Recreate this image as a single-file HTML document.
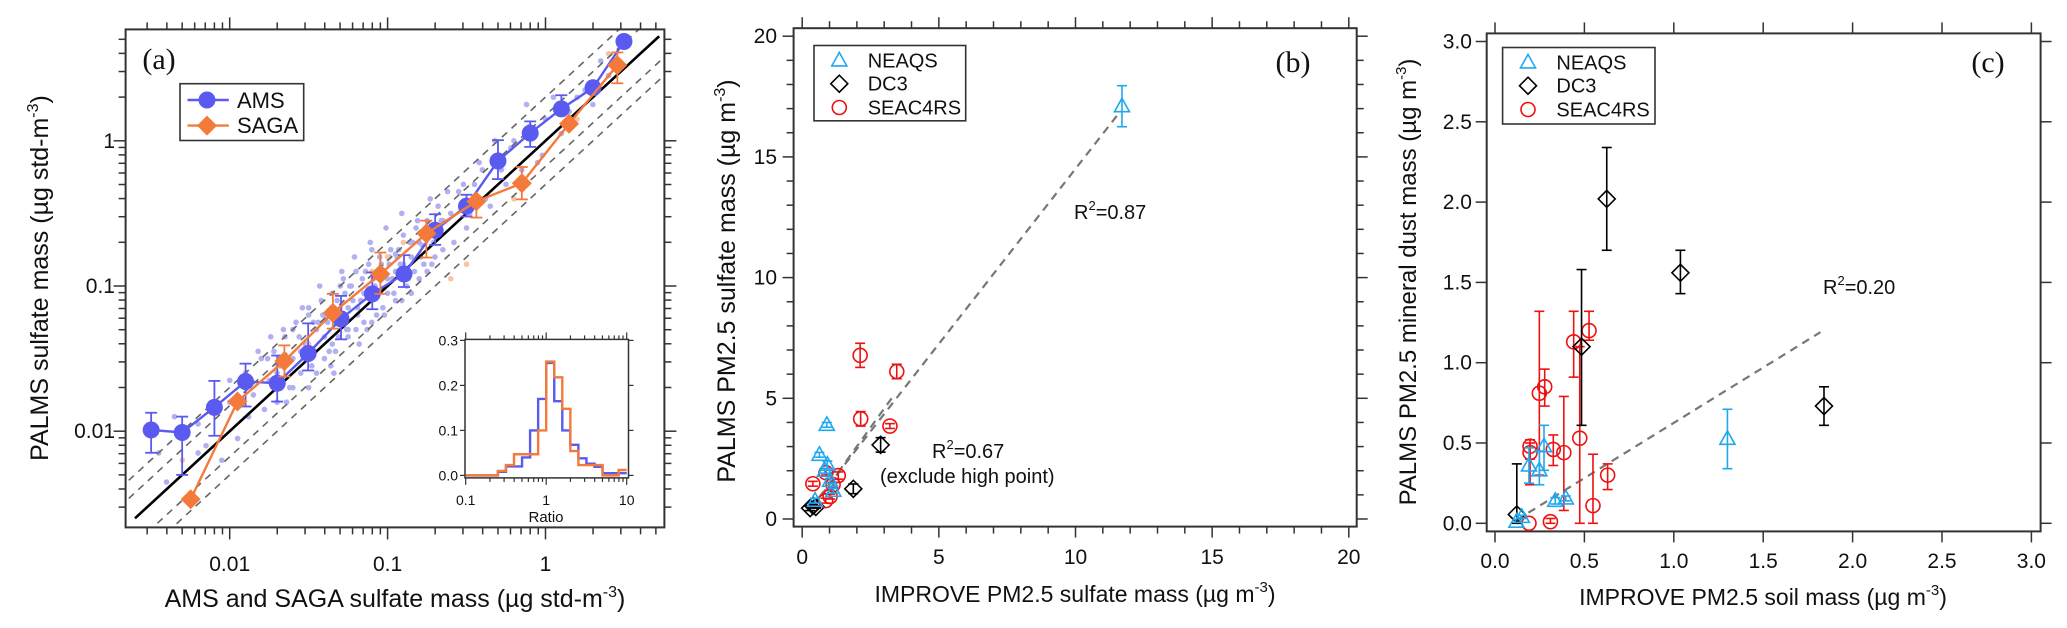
<!DOCTYPE html>
<html><head><meta charset="utf-8"><style>
html,body{margin:0;padding:0;background:#fff}
svg{display:block;font-family:"Liberation Sans",Arial,sans-serif}
</style></head><body>
<svg id="fig" width="2067" height="628" viewBox="0 0 2067 628" xmlns="http://www.w3.org/2000/svg">
<defs><clipPath id="clipA"><rect x="125.6" y="29.4" width="538.8" height="498"/></clipPath></defs>
<g id="pa"></g>
<g id="pb"></g>
<g id="pc"></g>
</svg>
<script>
// ---------- Panel (a) data ----------
const amsX=[0.00318,0.0050,0.0080,0.0126,0.020,0.0314,0.0507,0.080,0.127,0.20,0.316,0.50,0.80,1.26,2.0,3.14];
const amsY=[0.0102,0.0098,0.0146,0.022,0.0214,0.0343,0.0594,0.0883,0.121,0.242,0.355,0.726,1.13,1.66,2.32,4.83];
const amsHi=[0.0134,0.0126,0.0222,0.0292,0.0332,0.0553,0.0855,0.124,0.163,0.312,0.425,1.01,1.36,2.06,null,null];
const amsLo=[0.0071,0.0050,0.0093,0.0148,0.0160,0.0262,0.0429,0.0692,0.0984,0.192,0.301,0.545,0.908,null,null,null];
const sagaX=[0.00566,0.0112,0.0222,0.045,0.090,0.176,0.365,0.708,1.41,2.85];
const sagaY=[0.0034,0.016,0.0304,0.0653,0.121,0.230,0.383,0.51,1.31,3.32];
const sagaHi=[null,null,0.039,0.0883,0.170,0.282,0.408,0.66,null,4.06];
const sagaLo=[null,null,0.0238,0.0509,0.0883,0.157,0.296,0.395,null,2.49];
const cloudLx=[-2.45,-2.4,-2.3,-2.25,-2.2,-2.15,-2.1,-2.05,-2.0,-1.95,-1.9,-1.88,-1.85,-1.8,-1.78,-1.75,-1.72,-1.7,-1.68,-1.65,-1.62,-1.6,-1.58,-1.55,-1.52,-1.5,-1.48,-1.45,-1.42,-1.4,-1.38,-1.35,-1.33,-1.3,-1.28,-1.25,-1.22,-1.2,-1.18,-1.15,-1.12,-1.1,-1.08,-1.05,-1.02,-1.0,-0.98,-0.95,-0.92,-0.9,-0.88,-0.85,-0.82,-0.8,-0.78,-0.75,-0.72,-0.7,-0.68,-0.65,-0.6,-0.55,-0.5,-0.45,-0.4,-0.35,-0.3,-0.25,-0.2,-0.15,-0.1,-0.05,0.0,0.1,0.2,0.3,0.4,-1.45,-1.35,-1.25,-1.15,-1.05,-0.95,-0.85,-0.75,-1.6,-1.7,-1.3,-1.1,-0.9,-0.7,-1.5,-1.2,-1.4,-1.0,-0.8,-1.55,-1.25,-0.95,-0.65,
 -2.35,-2.2,-2.0,-1.9,-1.82,-1.76,-1.66,-1.6,-1.56,-1.5,-1.46,-1.43,-1.39,-1.36,-1.32,-1.29,-1.26,-1.23,-1.21,-1.19,-1.16,-1.13,-1.11,-1.09,-1.06,-1.03,-1.01,-0.99,-0.96,-0.93,-0.91,-0.89,-0.86,-0.83,-0.81,-0.79,-0.76,-0.73,-0.71,-0.66,-0.62,-0.58,-0.52,-0.48,-0.42,-0.38,-0.32,-0.28,-0.22,-0.12,-0.02,0.05,0.15,0.25,0.35,-1.74,-1.64,-1.54,-1.44,-1.34,
 -1.47,-1.41,-1.37,-1.31,-1.27,-1.17,-1.14,-1.07,-1.04,-0.97,-0.94,-0.87,-0.84,-0.77,-0.74,-1.24,-1.19,-1.09,-0.99,-0.91];
const cloudLy=[-2.15,-2.35,-2.0,-2.45,-1.95,-2.1,-1.85,-2.2,-1.8,-2.05,-1.6,-1.9,-1.75,-1.5,-1.85,-1.65,-1.45,-1.8,-1.55,-1.35,-1.7,-1.5,-1.25,-1.6,-1.4,-1.2,-1.55,-1.3,-1.1,-1.5,-1.25,-1.05,-1.45,-1.2,-0.95,-1.35,-1.1,-0.9,-1.4,-1.05,-0.85,-1.25,-1.0,-0.8,-1.2,-0.95,-0.75,-1.1,-0.85,-0.65,-1.0,-0.8,-0.6,-0.95,-0.72,-0.55,-0.85,-0.6,-0.45,-0.75,-0.5,-0.35,-0.6,-0.3,-0.2,-0.45,-0.1,-0.3,0.0,-0.2,0.1,-0.15,0.15,0.05,0.3,0.25,0.45,-1.6,-1.4,-1.15,-1.25,-0.95,-0.9,-1.05,-0.9,-1.3,-1.6,-1.0,-0.75,-0.85,-0.8,-1.7,-1.3,-1.35,-1.05,-0.7,-1.45,-1.3,-0.78,-0.55,
 -1.9,-2.15,-1.65,-1.7,-1.45,-1.5,-1.3,-1.7,-1.35,-1.15,-1.45,-1.0,-1.2,-1.55,-1.1,-0.9,-1.3,-1.0,-0.8,-1.15,-0.95,-1.3,-0.7,-1.05,-0.9,-1.15,-0.6,-0.85,-1.05,-0.75,-0.5,-0.95,-0.7,-0.9,-0.55,-0.8,-0.65,-0.4,-0.7,-0.55,-0.35,-0.7,-0.3,-0.5,-0.15,-0.4,0.0,-0.2,-0.05,0.25,-0.1,0.3,0.2,0.35,0.55,-1.35,-1.8,-1.15,-1.25,-1.6,
 -1.25,-1.2,-1.45,-1.35,-1.05,-1.1,-0.9,-1.2,-0.85,-0.95,-0.8,-0.95,-0.7,-0.85,-0.6,-1.0,-1.2,-0.95,-0.8,-1.1];
const cloudOx=[-2.3,-1.7,-1.5,-1.1,-0.9,-0.7,-0.5,-0.6,-0.2,0.2,0.4,-1.0,-1.3];
const cloudOy=[-2.2,-1.55,-1.4,-0.9,-0.7,-0.6,-0.85,-0.95,-0.4,0.15,0.6,-0.8,-1.15];
const histBlue=[0,0,0,0,0.008,0.02,0.02,0.04,0.10,0.17,0.25,0.165,0.10,0.068,0.038,0.026,0.019,0.005,0.005,0.005];
const histOrange=[0,0,0,0,0.01,0.023,0.047,0.047,0.047,0.10,0.253,0.218,0.148,0.054,0.023,0.023,0.023,0,0,0.012];
// ---------- Panel (b) data ----------
const bNeX=[0.90,0.63,0.92,0.83,1.02,1.14,0.47,11.7];
const bNeY=[3.9,2.66,2.25,2.0,1.58,1.17,0.76,17.1];
const bNeErr=[0.1,0.1,0.15,0.1,0.1,0.1,0.1,0.85];
const bDcX=[2.87,1.87,0.29,0.4,0.5];
const bDcY=[3.07,1.25,0.45,0.55,0.5];
const bDcErr=[0.3,0.2,0.1,0.05,0.05];
const bSeX=[2.12,3.46,2.14,3.21,0.39,1.32,0.87,1.13,1.02,0.86];
const bSeY=[6.78,6.11,4.15,3.85,1.46,1.8,1.92,1.42,0.93,0.76];
const bSeErr=[0.5,0.3,0.3,0.1,0.1,0.15,0.1,0.1,0.1,0.1];
// ---------- Panel (c) data ----------
const cDcX=[0.625,1.037,0.484,1.84,0.122];
const cDcY=[2.02,1.56,1.10,0.73,0.055];
const cDcHi=[2.34,1.70,1.58,0.85,0.37];
const cDcLo=[1.70,1.43,0.61,0.61,0.0];
const cNeX=[1.30,0.19,0.248,0.274,0.337,0.396,0.15,0.12];
const cNeY=[0.526,0.36,0.33,0.48,0.14,0.155,0.04,0.01];
const cNeHi=[0.71,0.47,0.45,0.61,0.16,0.17,0.05,0.02];
const cNeLo=[0.34,0.25,0.24,0.33,0.12,0.14,0.03,0.0];
const cSeX=[0.248,0.278,0.44,0.526,0.474,0.196,0.196,0.326,0.385,0.63,0.548,0.19,0.31];
const cSeY=[0.81,0.85,1.13,1.20,0.53,0.48,0.44,0.46,0.44,0.30,0.11,0.0,0.01];
const cSeHi=[1.32,0.96,1.32,1.32,1.1,0.52,0.50,0.55,0.79,0.37,0.43,0.0,0.03];
const cSeLo=[0.30,0.73,0.91,1.14,0.0,0.24,0.40,0.36,0.08,0.21,0.0,0.0,0.0];

const NS="http://www.w3.org/2000/svg";
function el(parent,tag,attrs){const e=document.createElementNS(NS,tag);for(const k in attrs)e.setAttribute(k,attrs[k]);parent.appendChild(e);return e;}
function txt(parent,x,y,s,size,anchor,extra){const t=el(parent,'text',Object.assign({x:x,y:y,'font-size':size,'text-anchor':anchor||'middle',fill:'#111'},extra||{}));t.textContent=s;return t;}
const AX='#333';

// ================= PANEL A =================
const pa=document.getElementById('pa');
const aL=125.6,aR=664.4,aT=29.4,aB=527.4;
const xa=v=>229.7+(Math.log10(v)+2)*157.9;
const ya=v=>431.2-(Math.log10(v)+2)*145.2;
const xal=l=>229.7+(l+2)*157.9, yal=l=>431.2-(l+2)*145.2;
const cloud=el(pa,'g',{'clip-path':'url(#clipA)'});


for(let i=0;i<cloudLx.length;i++){const d=el(cloud,'circle',{cx:xal(cloudLx[i]),cy:yal(cloudLy[i]),r:2.8,fill:'#b0b0f2'});}
for(let i=0;i<cloudOx.length;i++){const d=el(cloud,'circle',{cx:xal(cloudOx[i]),cy:yal(cloudOy[i]),r:2.8,fill:'#f8c4a4'});}
const refs=el(pa,'g',{'clip-path':'url(#clipA)'});


[1.5,2,1/1.5,0.5].forEach(f=>{const lf=Math.log10(f);el(refs,'line',{x1:xal(-2.7),y1:yal(-2.7+lf),x2:xal(0.8),y2:yal(0.8+lf),stroke:'#666','stroke-width':1.6,'stroke-dasharray':'7,6'});});
const one=el(refs,'line',{x1:xal(-2.6),y1:yal(-2.6),x2:xal(0.72),y2:yal(0.72),stroke:'#000','stroke-width':2.6});


function series(g,X,Y,Hi,Lo,col,shape,name){
  const sg=el(g,'g',{});
  
  
  for(let i=0;i<X.length;i++){const x=xa(X[i]);
    if(Hi[i]!=null){el(sg,'line',{x1:x,y1:ya(Y[i]),x2:x,y2:ya(Hi[i]),stroke:col,'stroke-width':1.8});el(sg,'line',{x1:x-6,y1:ya(Hi[i]),x2:x+6,y2:ya(Hi[i]),stroke:col,'stroke-width':1.8});}
    if(Lo[i]!=null){el(sg,'line',{x1:x,y1:ya(Y[i]),x2:x,y2:ya(Lo[i]),stroke:col,'stroke-width':1.8});el(sg,'line',{x1:x-6,y1:ya(Lo[i]),x2:x+6,y2:ya(Lo[i]),stroke:col,'stroke-width':1.8});}}
  el(sg,'polyline',{points:X.map((v,i)=>xa(v)+','+ya(Y[i])).join(' '),fill:'none',stroke:col,'stroke-width':2.4});
  for(let i=0;i<X.length;i++){const x=xa(X[i]),y=ya(Y[i]);let m;
    if(shape==='c')m=el(sg,'circle',{cx:x,cy:y,r:8.5,fill:col});
    else m=el(sg,'polygon',{points:`${x},${y-10} ${x+10},${y} ${x},${y+10} ${x-10},${y}`,fill:col});
    }
}
series(pa,amsX,amsY,amsHi,amsLo,'#5a5af0','c','ams-series');
series(pa,sagaX,sagaY,sagaHi,sagaLo,'#f47a3c','d','saga-series');
const fa=el(pa,'rect',{x:aL,y:aT,width:aR-aL,height:aB-aT,fill:'none',stroke:AX,'stroke-width':2});

for(let d=-3;d<=0;d++)for(let m=1;m<10;m++){const l=d+Math.log10(m);const major=m===1;const len=major?12:7;
  const x=xal(l);if(x>=aL&&x<=aR){el(pa,'line',{x1:x,y1:aB,x2:x,y2:aB+len,stroke:AX,'stroke-width':1.5});el(pa,'line',{x1:x,y1:aT,x2:x,y2:aT-len,stroke:AX,'stroke-width':1.5});}
  const y=yal(l);if(y>=aT&&y<=aB){el(pa,'line',{x1:aL,y1:y,x2:aL-len,y2:y,stroke:AX,'stroke-width':1.5});el(pa,'line',{x1:aR,y1:y,x2:aR+len,y2:y,stroke:AX,'stroke-width':1.5});}}
const aTicks=['0.01','0.1','1'];
aTicks.forEach(s=>{const v=parseFloat(s);
  const tx=txt(pa,xa(v),571,s,21);
  const ty=txt(pa,115,ya(v)+7,s,21,'end');});
let t=el(pa,'text',{x:395,y:607,'font-size':25,'text-anchor':'middle',fill:'#111'});
t.innerHTML='AMS and SAGA sulfate mass (µg std-m<tspan dy="-10" font-size="16">-3</tspan><tspan dy="10">)</tspan>';

t=el(pa,'text',{x:0,y:0,'font-size':25,'text-anchor':'middle',fill:'#111',transform:'translate(48,278) rotate(-90)'});
t.innerHTML='PALMS sulfate mass (µg std-m<tspan dy="-10" font-size="16">-3</tspan><tspan dy="10">)</tspan>';

t=txt(pa,159,69,'(a)',30,'middle',{'font-family':'"Liberation Serif",serif'});
const lga=el(pa,'g',{});
el(lga,'rect',{x:180,y:83.7,width:123.7,height:56.8,fill:'#fff',stroke:AX,'stroke-width':1.6});
el(lga,'line',{x1:187.5,y1:100,x2:228.8,y2:100,stroke:'#5a5af0','stroke-width':2.4});
el(lga,'circle',{cx:207,cy:100,r:8.5,fill:'#5a5af0'});
el(lga,'line',{x1:187.5,y1:125.6,x2:228.8,y2:125.6,stroke:'#f47a3c','stroke-width':2.4});
el(lga,'polygon',{points:'207,115.6 217,125.6 207,135.6 197,125.6',fill:'#f47a3c'});
t=txt(lga,237,108,'AMS',22,'start');
t=txt(lga,237,133,'SAGA',22,'start');
const ins=el(pa,'g',{});
const iL=465,iR=628.5,iT=339.4,iB=477.9;
const xi=l=>465.7+(l+1)*80.5, yi=v=>475.4-v*450;
el(ins,'rect',{x:iL,y:iT,width:iR-iL,height:iB-iT,fill:'#fff',stroke:AX,'stroke-width':1.5});
function step(arr,col,nm){let p=`M${xi(-1)},${yi(0)}`;arr.forEach((v,i)=>{p+=` L${xi(-1+0.1*i)},${yi(v)} L${xi(-0.9+0.1*i)},${yi(v)}`;});
  const s=el(ins,'path',{d:p,fill:'none',stroke:col,'stroke-width':2.4});}
step(histBlue,'#5a5af0','hist-ams');step(histOrange,'#f47a3c','hist-saga');
for(let d=-1;d<=0;d++)for(let m=1;m<10;m++){const x=xi(d+Math.log10(m));const len=m===1?7:4;
  el(ins,'line',{x1:x,y1:iB,x2:x,y2:iB+len,stroke:AX,'stroke-width':1.2});el(ins,'line',{x1:x,y1:iT,x2:x,y2:iT-len,stroke:AX,'stroke-width':1.2});}
el(ins,'line',{x1:xi(1),y1:iB,x2:xi(1),y2:iB+7,stroke:AX,'stroke-width':1.2});el(ins,'line',{x1:xi(1),y1:iT,x2:xi(1),y2:iT-7,stroke:AX,'stroke-width':1.2});
const insY=['0.0','0.1','0.2','0.3'];
insY.forEach(s=>{const v=parseFloat(s);el(ins,'line',{x1:iL,y1:yi(v),x2:iL-5,y2:yi(v),stroke:AX,'stroke-width':1.2});el(ins,'line',{x1:iR,y1:yi(v),x2:iR+5,y2:yi(v),stroke:AX,'stroke-width':1.2});
  const q=txt(ins,iL-7,yi(v)+5,s,14,'end');});
const insX=['0.1','1','10'];
insX.forEach(s=>{const q=txt(ins,xi(Math.log10(parseFloat(s))),505,s,14);});
t=txt(ins,546,522,'Ratio',15);

// ================= PANEL B =================
const pb=document.getElementById('pb');
const bL=793.6,bR=1356.7,bT=28.2,bB=526.6;
const xb=v=>802.2+v*27.33, yb=v=>519-v*24.14;
const fb=el(pb,'rect',{x:bL,y:bT,width:bR-bL,height:bB-bT,fill:'none',stroke:AX,'stroke-width':2});

for(let v=0;v<=20;v++){const len=v%5===0?11:7;
  el(pb,'line',{x1:xb(v),y1:bB,x2:xb(v),y2:bB+len,stroke:AX,'stroke-width':1.5});el(pb,'line',{x1:xb(v),y1:bT,x2:xb(v),y2:bT-len,stroke:AX,'stroke-width':1.5});
  el(pb,'line',{x1:bL,y1:yb(v),x2:bL-len,y2:yb(v),stroke:AX,'stroke-width':1.5});el(pb,'line',{x1:bR,y1:yb(v),x2:bR+len,y2:yb(v),stroke:AX,'stroke-width':1.5});}
const bTicks=['0','5','10','15','20'];
bTicks.forEach(s=>{const v=+s;
  let q=txt(pb,xb(v),564,s,21);
  q=txt(pb,777,yb(v)+7,s,21,'end');});
t=el(pb,'text',{x:1075,y:602,'font-size':23,'text-anchor':'middle',fill:'#111'});
t.innerHTML='IMPROVE PM2.5 sulfate mass (µg m<tspan dy="-10" font-size="15">-3</tspan><tspan dy="10">)</tspan>';

t=el(pb,'text',{x:0,y:0,'font-size':25,'text-anchor':'middle',fill:'#111',transform:'translate(735,281) rotate(-90)'});
t.innerHTML='PALMS PM2.5 sulfate mass (µg m<tspan dy="-10" font-size="16">-3</tspan><tspan dy="10">)</tspan>';

t=txt(pb,1293,72,'(b)',30,'middle',{'font-family':'"Liberation Serif",serif'});
let fit=el(pb,'line',{x1:xb(0.3),y1:yb(0.3*1.45),x2:xb(11.65),y2:yb(16.9),stroke:'#777','stroke-width':2.2,'stroke-dasharray':'8,6'});

fit=el(pb,'line',{x1:xb(0.4),y1:yb(0.5),x2:xb(3.4),y2:yb(5.2),stroke:'#777','stroke-width':2.2,'stroke-dasharray':'8,6'});

t=el(pb,'text',{x:1074,y:219,'font-size':20,fill:'#111'});t.innerHTML='R<tspan dy="-9" font-size="13">2</tspan><tspan dy="9">=0.87</tspan>';

t=el(pb,'text',{x:932,y:458,'font-size':20,fill:'#111'});t.innerHTML='R<tspan dy="-9" font-size="13">2</tspan><tspan dy="9">=0.67</tspan>';

t=txt(pb,880,483,'(exclude high point)',20,'start');

function marker(g,x,y,shape,col,nm){let m;
  if(shape==='t')m=el(g,'polygon',{points:`${x},${y-8} ${x+7.5},${y+5.5} ${x-7.5},${y+5.5}`,fill:'none',stroke:col,'stroke-width':1.6});
  else if(shape==='d')m=el(g,'polygon',{points:`${x},${y-8.5} ${x+8.5},${y} ${x},${y+8.5} ${x-8.5},${y}`,fill:'none',stroke:col,'stroke-width':1.6});
  else m=el(g,'circle',{cx:x,cy:y,r:7,fill:'none',stroke:col,'stroke-width':1.6});
  }
function errbar(g,x,y1,y2,col){el(g,'line',{x1:x,y1:y1,x2:x,y2:y2,stroke:col,'stroke-width':1.6});
  el(g,'line',{x1:x-5,y1:y1,x2:x+5,y2:y1,stroke:col,'stroke-width':1.6});el(g,'line',{x1:x-5,y1:y2,x2:x+5,y2:y2,stroke:col,'stroke-width':1.6});}
function groupB(X,Y,E,shape,col,nm){const g=el(pb,'g',{});
  for(let i=0;i<X.length;i++){errbar(g,xb(X[i]),yb(Y[i]+E[i]),yb(Y[i]-E[i]),col);marker(g,xb(X[i]),yb(Y[i]),shape,col,nm+'-point');}}
groupB(bDcX,bDcY,bDcErr,'d','#000','dc3-series-b');
groupB(bSeX,bSeY,bSeErr,'c','#ee1111','seac4rs-series-b');
groupB(bNeX,bNeY,bNeErr,'t','#1fa8ee','neaqs-series-b');
function legend(parent,x0,y0,w,h,mx,tx,ys,nm){const g=el(parent,'g',{});
  el(g,'rect',{x:x0,y:y0,width:w,height:h,fill:'#fff',stroke:AX,'stroke-width':1.6});
  const items=[['NEAQS','t','#1fa8ee'],['DC3','d','#000'],['SEAC4RS','c','#ee1111']];
  items.forEach((it,i)=>{marker(g,mx,ys[i],it[1],it[2],'legend-marker');const q=txt(g,tx,ys[i]+7,it[0],20,'start');});}
legend(pb,814,45.5,151.7,75.3,839.3,867.7,[60.4,83.7,107.5],'legend-b');

// ================= PANEL C =================
const pc=document.getElementById('pc');
const cL=1486.7,cR=2040.6,cT=33.4,cB=531.4;
const xc=v=>1495+v*178.8, yc=v=>523.3-v*160.6;
const fc=el(pc,'rect',{x:cL,y:cT,width:cR-cL,height:cB-cT,fill:'none',stroke:AX,'stroke-width':2});

const cTicks=['0.0','0.5','1.0','1.5','2.0','2.5','3.0'];
cTicks.forEach(s=>{const v=parseFloat(s);
  el(pc,'line',{x1:xc(v),y1:cB,x2:xc(v),y2:cB+11,stroke:AX,'stroke-width':1.5});el(pc,'line',{x1:xc(v),y1:cT,x2:xc(v),y2:cT-11,stroke:AX,'stroke-width':1.5});
  el(pc,'line',{x1:cL,y1:yc(v),x2:cL-11,y2:yc(v),stroke:AX,'stroke-width':1.5});el(pc,'line',{x1:cR,y1:yc(v),x2:cR+11,y2:yc(v),stroke:AX,'stroke-width':1.5});
  let q=txt(pc,xc(v),568,s,21);
  q=txt(pc,1472,yc(v)+7,s,21,'end');});
t=el(pc,'text',{x:1763,y:605,'font-size':23,'text-anchor':'middle',fill:'#111'});
t.innerHTML='IMPROVE PM2.5 soil mass (µg m<tspan dy="-10" font-size="15">-3</tspan><tspan dy="10">)</tspan>';

t=el(pc,'text',{x:0,y:0,'font-size':24,'text-anchor':'middle',fill:'#111',transform:'translate(1416,282) rotate(-90)'});
t.innerHTML='PALMS PM2.5 mineral dust mass (µg m<tspan dy="-10" font-size="15">-3</tspan><tspan dy="10">)</tspan>';

t=txt(pc,1988,72,'(c)',30,'middle',{'font-family':'"Liberation Serif",serif'});
fit=el(pc,'line',{x1:xc(0.12),y1:yc(0.02),x2:xc(1.82),y2:yc(1.19),stroke:'#777','stroke-width':2.2,'stroke-dasharray':'8,6'});

t=el(pc,'text',{x:1823,y:294,'font-size':20,fill:'#111'});t.innerHTML='R<tspan dy="-9" font-size="13">2</tspan><tspan dy="9">=0.20</tspan>';

function groupC(X,Y,Hi,Lo,shape,col,nm){const g=el(pc,'g',{});
  for(let i=0;i<X.length;i++){if(Hi[i]-Lo[i]>0.02)errbar(g,xc(X[i]),yc(Hi[i]),yc(Lo[i]),col);marker(g,xc(X[i]),yc(Y[i]),shape,col,nm+'-point');}}
groupC(cSeX,cSeY,cSeHi,cSeLo,'c','#ee1111','seac4rs-series-c');
groupC(cDcX,cDcY,cDcHi,cDcLo,'d','#000','dc3-series-c');
groupC(cNeX,cNeY,cNeHi,cNeLo,'t','#1fa8ee','neaqs-series-c');
legend(pc,1502.6,47.5,152.4,76.5,1528,1556.4,[62.4,85.7,109.5],'legend-c');
</script>
</body></html>
